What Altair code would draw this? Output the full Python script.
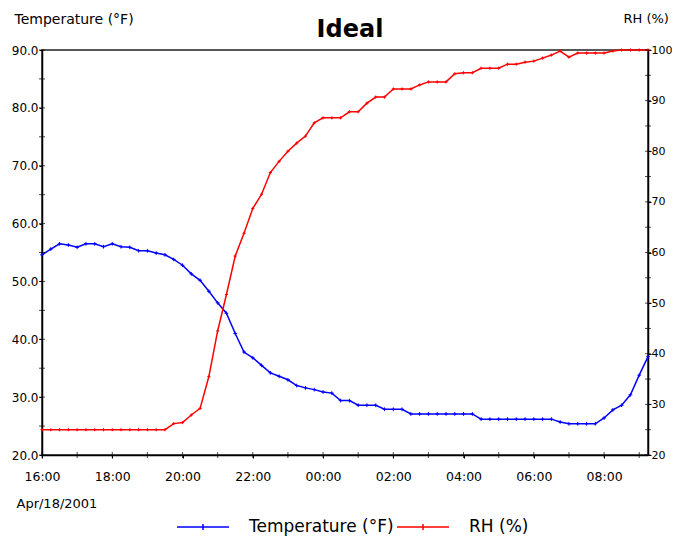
import altair as alt
import pandas as pd

# ---- data (15-minute samples) ----
times = [
    "16:00", "16:15", "16:30", "16:45", "17:00", "17:15", "17:30", "17:45",
    "18:00", "18:15", "18:30", "18:45", "19:00", "19:15", "19:30", "19:45",
    "20:00", "20:15", "20:30", "20:45", "21:00", "21:15", "21:30", "21:45",
    "22:00", "22:15", "22:30", "22:45", "23:00", "23:15", "23:30", "23:45",
    "00:00", "00:15", "00:30", "00:45", "01:00", "01:15", "01:30", "01:45",
    "02:00", "02:15", "02:30", "02:45", "03:00", "03:15", "03:30", "03:45",
    "04:00", "04:15", "04:30", "04:45", "05:00", "05:15", "05:30", "05:45",
    "06:00", "06:15", "06:30", "06:45", "07:00", "07:15", "07:30", "07:45",
    "08:00", "08:15", "08:30", "08:45", "09:00", "09:15",
]
temperature_f = [
    54.6, 55.6, 56.5, 56.3, 55.9, 56.5, 56.5, 56.0,
    56.5, 56.0, 55.9, 55.3, 55.3, 54.9, 54.6, 53.8,
    52.8, 51.3, 50.2, 48.3, 46.3, 44.5, 41.0, 37.8,
    36.8, 35.5, 34.2, 33.6, 33.0, 32.0, 31.6, 31.3,
    30.9, 30.7, 29.4, 29.4, 28.6, 28.6, 28.6, 27.9,
    27.9, 27.9, 27.1, 27.1, 27.1, 27.1, 27.1, 27.1,
    27.1, 27.1, 26.2, 26.2, 26.2, 26.2, 26.2, 26.2,
    26.2, 26.2, 26.2, 25.7, 25.4, 25.4, 25.4, 25.4,
    26.4, 27.8, 28.6, 30.4, 33.8, 37.0,
]
rh_pct = [
    25.0, 25.0, 25.0, 25.0, 25.0, 25.0, 25.0, 25.0,
    25.0, 25.0, 25.0, 25.0, 25.0, 25.0, 25.0, 26.2,
    26.4, 27.9, 29.2, 35.5, 44.5, 51.7, 59.3, 63.8,
    68.7, 71.5, 75.8, 78.0, 80.0, 81.6, 83.0, 85.6,
    86.6, 86.6, 86.6, 87.8, 87.8, 89.5, 90.7, 90.7,
    92.3, 92.3, 92.3, 93.1, 93.7, 93.7, 93.7, 95.3,
    95.5, 95.5, 96.4, 96.4, 96.4, 97.2, 97.2, 97.6,
    97.8, 98.4, 99.0, 99.8, 98.6, 99.4, 99.4, 99.4,
    99.4, 99.8, 100.0, 100.0, 100.0, 100.0,
]
series_names = ["Temperature (°F)", "RH (%)"]
series_colors = ["#0000ff", "#ff0000"]
x_tick_hours = list(range(16, 34))          # hourly ticks, labels every 2 h
temp_ticks = list(range(20, 95, 5))
rh_ticks = list(range(20, 105, 5))
x_domain = [16, 33.25]
temp_domain = [20, 90]
rh_domain = [20, 100]
date_label = "Apr/18/2001"


def to_hours(t):
    h, m = (int(p) for p in t.split(":"))
    v = h + m / 60
    return v + 24 if h < 16 else v


hours = [to_hours(t) for t in times]
df_t = pd.DataFrame({"hour": hours, "value": temperature_f, "series": series_names[0]})
df_r = pd.DataFrame({"hour": hours, "value": rh_pct, "series": series_names[1]})
df_xt = pd.DataFrame({"hour": x_tick_hours})
df_tt = pd.DataFrame({"value": temp_ticks})
df_rt = pd.DataFrame({"value": rh_ticks})

FONT = "DejaVu Sans"
CROSS = "M-1,0H1M0,-1V1"

xscale = alt.Scale(domain=x_domain, nice=False, zero=False)
tscale = alt.Scale(domain=temp_domain, nice=False, zero=False)
rscale = alt.Scale(domain=rh_domain, nice=False, zero=False)

color = alt.Color(
    "series:N",
    scale=alt.Scale(domain=series_names, range=series_colors),
    legend=alt.Legend(
        title=None, orient="none", direction="horizontal",
        legendX=134, legendY=450, padding=0,
        symbolType="M-1,0H1M0,-0.12V0.12", symbolSize=2704,
        symbolStrokeWidth=1.5, symbolFillColor="transparent",
        labelFont=FONT, labelFontSize=17, labelColor="black",
        labelOffset=19, columnPadding=0,
    ),
)

x_main = alt.X(
    "hour:Q", scale=xscale,
    axis=alt.Axis(
        values=x_tick_hours,
        labelExpr="datum.value % 2 == 0 ? format(datum.value % 24, '02d') + ':00' : ''",
        labelOverlap=False, labelFlush=False, labelPadding=12,
        labelFontSize=12.5, tickSize=3,
        title=date_label, titleAnchor="start", titleAlign="left",
        titleBaseline="top", titleX=-26, titleY=42,
        titleFontSize=13, titleFontWeight="normal",
    ),
)
x_plain = alt.X("hour:Q", scale=xscale)

y_temp = alt.Y(
    "value:Q", scale=tscale,
    axis=alt.Axis(
        orient="left", values=temp_ticks,
        labelExpr="datum.value % 10 == 0 ? format(datum.value, '.1f') : ''",
        labelOverlap=False, labelFlush=False, labelPadding=1,
        labelFontSize=12, tickSize=3,
        title=series_names[0], titleAngle=0, titleAlign="left",
        titleBaseline="top", titleX=-28, titleY=-38,
        titleFontSize=14, titleFontWeight="normal",
    ),
)
y_temp_plain = alt.Y("value:Q", scale=tscale)
y_rh = alt.Y(
    "value:Q", scale=rscale,
    axis=alt.Axis(
        orient="right", values=rh_ticks,
        labelExpr="datum.value % 10 == 0 ? format(datum.value, 'd') : ''",
        labelOverlap=False, labelFlush=False, labelPadding=0,
        labelFontSize=11, tickSize=3,
        title=series_names[1], titleAngle=0, titleAlign="left",
        titleBaseline="top", titleX=-25, titleY=-38,
        titleFontSize=13, titleFontWeight="normal",
    ),
)
y_rh_plain = alt.Y("value:Q", scale=rscale)

temp_line = alt.Chart(df_t).mark_line(
    strokeWidth=1.5,
    point=alt.OverlayMarkDef(shape=CROSS, filled=False, size=14, strokeWidth=1),
).encode(x=x_main, y=y_temp, color=color)
left_ticks = alt.Chart(df_tt).mark_tick(orient="horizontal", size=6, thickness=1, color="black").encode(
    x=alt.datum(x_domain[0]), y=y_temp_plain)
bottom_ticks = alt.Chart(df_xt).mark_tick(orient="vertical", size=6, thickness=1, color="black").encode(
    x=x_plain, y=alt.datum(temp_domain[0]))

rh_line = alt.Chart(df_r).mark_line(
    strokeWidth=1.5,
    point=alt.OverlayMarkDef(shape=CROSS, filled=False, size=10, strokeWidth=1),
).encode(x=x_plain, y=y_rh, color=color)
right_ticks = alt.Chart(df_rt).mark_tick(orient="horizontal", size=6, thickness=1, color="black").encode(
    x=alt.datum(x_domain[1]), y=y_rh_plain)

layer_t = alt.layer(temp_line, left_ticks, bottom_ticks)
layer_r = alt.layer(rh_line, right_ticks)

chart = (
    alt.layer(layer_t, layer_r)
    .resolve_scale(y="independent")
    .properties(
        width=606, height=405,
        title=alt.Title("Ideal", font=FONT, fontSize=24, fontWeight="bold",
                        color="black", anchor="middle", frame="group", dx=5, dy=34),
        autosize=alt.AutoSizeParams(type="none"),
        padding={"left": 34, "top": 42, "right": 24, "bottom": 81},
        background="white",
    )
    .configure_axis(labelFont=FONT, titleFont=FONT, labelColor="black", titleColor="black",
                    grid=False, domainColor="black", domainWidth=1.5, tickColor="black")
    .configure_view(stroke="#222222", strokeWidth=1.5)
)

chart.save("out.html", embed_options={"renderer": "svg", "actions": False})
